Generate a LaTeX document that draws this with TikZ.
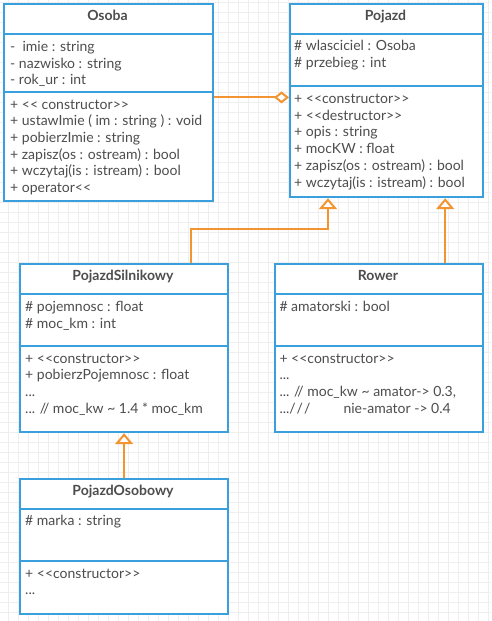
\documentclass[tikz,border=0pt]{standalone}
\usepackage{fontspec}
\setmainfont{Lato}
\usetikzlibrary{arrows.meta}
\definecolor{umlblue}{HTML}{3A9FDD}
\definecolor{umlorange}{HTML}{F29432}
\definecolor{umltext}{HTML}{4D4D4D}
\definecolor{gridc}{HTML}{EEEEEE}
\newcommand\umlst{<\kern0pt<}
\newcommand\umlen{>\kern0pt>}
\begin{document}
\begin{tikzpicture}[x=1pt,y=-1pt,
  box/.style={draw=umlblue, line width=2.2pt, fill=white, inner sep=0pt, anchor=north west},
  sep/.style={draw=umlblue, line width=2.2pt},
  ttl/.style={font=\fontsize{14}{16.7}\selectfont\bfseries, text=umltext, anchor=base, inner sep=0pt},
  txt/.style={font=\fontsize{14}{16.7}\selectfont, text=umltext, anchor=north west, inner sep=0pt, align=left, yshift=-1.3pt},
  conn/.style={draw=umlorange, line width=2pt},
  inh/.style={conn, -{Triangle[open, fill=white, length=11pt, width=18pt]}},
  agg/.style={conn, -{Diamond[open, fill=white, length=15pt, width=12pt]}},
]
\useasboundingbox (0,0) rectangle (491,621);
\fill[white] (0,0) rectangle (491,621);
% grid
\foreach \x in {8,18,...,488} \draw[gridc, line width=0.8pt] (\x,0) -- (\x,621);
\foreach \y in {2.7,12.7,...,620} \draw[gridc, line width=0.8pt] (0,\y) -- (491,\y);

% boxes
\node[box, minimum width=209pt, minimum height=197pt] (osoba) at (3,3) {};
\node[box, minimum width=193pt, minimum height=193pt] (pojazd) at (289,3) {};
\node[box, minimum width=208pt, minimum height=168pt] (psil) at (19,263) {};
\node[box, minimum width=208pt, minimum height=168pt] (rower) at (274,263) {};
\node[box, minimum width=208pt, minimum height=135pt] (posob) at (19,478) {};

% dividers
\draw[sep] (osoba.west |- 0,34) -- (osoba.east |- 0,34);
\draw[sep] (osoba.west |- 0,92) -- (osoba.east |- 0,92);
\draw[sep] (pojazd.west |- 0,34) -- (pojazd.east |- 0,34);
\draw[sep] (pojazd.west |- 0,86) -- (pojazd.east |- 0,86);
\draw[sep] (psil.west |- 0,294) -- (psil.east |- 0,294);
\draw[sep] (psil.west |- 0,346) -- (psil.east |- 0,346);
\draw[sep] (rower.west |- 0,294) -- (rower.east |- 0,294);
\draw[sep] (rower.west |- 0,346) -- (rower.east |- 0,346);
\draw[sep] (posob.west |- 0,509) -- (posob.east |- 0,509);
\draw[sep] (posob.west |- 0,561) -- (posob.east |- 0,561);

% titles
\node[ttl] (osobaT) at (107.5,20.7) {Osoba};
\node[ttl] (pojazdT) at (385.5,20.7) {Pojazd};
\node[ttl] (psilT) at (123,280.7) {PojazdSilnikowy};
\node[ttl] (rowerT) at (378,280.7) {Rower};
\node[ttl] (posobT) at (123,495.3) {PojazdOsobowy};

% Osoba
\node[txt] (osobaA) at (10,38.4) {\strut-\ \ imie : string\\\strut- nazwisko : string\\\strut- rok\_ur : int};
\node[txt] (osobaM) at (10,96) {\strut+ \umlst\ constructor\umlen\\\strut+ ustawImie ( im : string ) : void\\\strut+ pobierzImie : string\\\strut+ zapisz(os : ostream) : bool\\\strut+ wczytaj(is : istream) : bool\\\strut+ operator\umlst};

% Pojazd
\node[txt] (pojazdA) at (294,37.7) {\strut\# wlasciciel : Osoba\\\strut\# przebieg : int};
\node[txt] (pojazdM) at (294,90.4) {\strut+ \umlst constructor\umlen\\\strut+ \umlst destructor\umlen\\\strut+ opis : string\\\strut+ mocKW : float\\\strut+ zapisz(os : ostream) : bool\\\strut+ wczytaj(is : istream) : bool};

% PojazdSilnikowy
\node[txt] (psilA) at (25,298.4) {\strut\# pojemnosc : float\\\strut\# moc\_km : int};
\node[txt] (psilM) at (25,350) {\strut+ \umlst constructor\umlen\\\strut+ pobierzPojemnosc : float\\\strut...\\\strut... // moc\_kw \textasciitilde\ 1.4 * moc\_km};

% Rower
\node[txt] (rowerA) at (279.3,298.4) {\strut\# amatorski : bool};
\node[txt] (rowerM) at (279.3,350) {\strut+ \umlst constructor\umlen\\\strut...\\\strut... // moc\_kw \textasciitilde\ amator-> 0.3,\\\strut.../\kern1pt/\kern1pt/ \hspace{26pt} nie-amator -> 0.4};

% PojazdOsobowy
\node[txt] (posobA) at (25,512.7) {\strut\# marka : string};
\node[txt] (posobM) at (25,565) {\strut+ \umlst constructor\umlen\\\strut...};

% connectors
\draw[agg] ([yshift=5.2pt]osoba.east) -- ([yshift=5.2pt]osoba.east -| pojazd.west);
\draw[inh] ([xshift=-38pt]psil.north east) -- ++(0,-34) -| ([xshift=39pt]pojazd.south west);
\draw[inh] ([xshift=-39pt]rower.north east) -- ([xshift=-39pt]pojazd.south east);
\draw[inh] (posob.north) -- (psil.south);
\end{tikzpicture}
\end{document}
